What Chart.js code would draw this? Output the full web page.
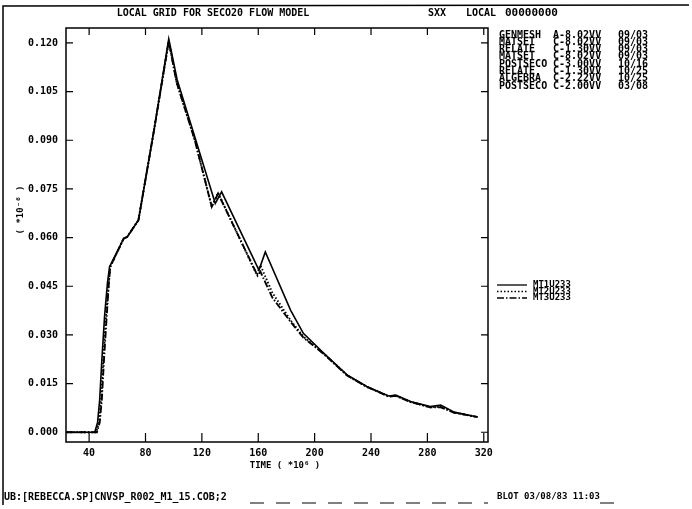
<!DOCTYPE html>
<html>
<head>
<meta charset="utf-8">
<script src="https://cdn.jsdelivr.net/npm/chart.js@4.4.1/dist/chart.umd.min.js"></script>
<style>
  body { margin: 0; background: #fff; }
  canvas { display: block; }
</style>
</head>
<body>
<canvas id="plot" width="692" height="509"></canvas>
<script>
// series names (legend)
const seriesNames = ['MT1U233', 'MT2U233', 'MT3U233'];

// MT1U233 - solid
const time1 = [24, 44, 46, 47.5, 49, 51, 53, 54.5, 64.5, 67, 75, 86, 96.5, 102.5, 115, 129.5, 134, 160.5, 165, 183, 192, 206, 223, 237, 252.5, 257.5, 268, 282, 289.5, 299, 315.5];
const conc1 = [0, 0, 0.003, 0.010, 0.022, 0.036, 0.046, 0.051, 0.0597, 0.0602, 0.0654, 0.093, 0.1212, 0.1086, 0.091, 0.0705, 0.0741, 0.0500, 0.0556, 0.0376, 0.0305, 0.0246, 0.0177, 0.0141, 0.0112, 0.0115, 0.0095, 0.0079, 0.0084, 0.0062, 0.0047];

// MT2U233 - dotted
const time2 = [24, 45, 47, 48.5, 50, 52, 54, 55, 64.5, 67, 75, 86, 96.5, 102, 115, 127, 131.5, 159, 161.5, 170, 183, 192, 206, 223, 237, 252.5, 257.5, 268, 282, 289.5, 299, 315.5];
const conc2 = [0, 0, 0.003, 0.010, 0.022, 0.036, 0.046, 0.051, 0.0597, 0.0602, 0.0654, 0.093, 0.1205, 0.108, 0.090, 0.0695, 0.0738, 0.0485, 0.0515, 0.043, 0.0345, 0.0295, 0.0244, 0.0176, 0.0140, 0.0111, 0.0113, 0.0094, 0.0077, 0.0079, 0.0061, 0.0047];

// MT3U233 - dash-dot
const time3 = [24, 45.5, 47.5, 49, 50.5, 52.5, 54, 55, 64.5, 67, 75, 86, 96.5, 102, 115, 127, 131.5, 159.5, 161.5, 170, 183, 192, 206, 223, 237, 252.5, 257.5, 268, 282, 289.5, 299, 315.5];
const conc3 = [0, 0, 0.003, 0.010, 0.022, 0.036, 0.046, 0.051, 0.0597, 0.0602, 0.0654, 0.093, 0.1205, 0.108, 0.090, 0.0695, 0.0736, 0.0483, 0.0495, 0.0415, 0.0340, 0.0292, 0.0243, 0.0175, 0.0140, 0.0110, 0.0112, 0.0093, 0.0077, 0.0077, 0.0060, 0.0047];

// axis ticks
const xTicks = [40, 80, 120, 160, 200, 240, 280, 320];
const yTicks = [0, 0.015, 0.030, 0.045, 0.060, 0.075, 0.090, 0.105, 0.120];

// header block on the right
const runInfo = [
  ['GENMESH', 'A-8.02VV', '09/03'],
  ['MATSET', 'C-8.02VV', '09/03'],
  ['RELATE', 'C-1.30VV', '09/03'],
  ['MATSET', 'C-8.02VV', '09/03'],
  ['POSTSECO', 'C-3.00VV', '10/16'],
  ['RELATE', 'C-1.30VV', '10/25'],
  ['ALGEBRA', 'C-2.22VV', '10/25'],
  ['POSTSECO', 'C-2.00VV', '03/08']
];

const MONO = '"DejaVu Sans Mono", "Liberation Mono", monospace';

function toPoints(ts, vs) {
  return ts.map((t, i) => ({ x: t, y: vs[i] }));
}

const lineStyles = [[], [1.5, 2], [7, 2, 1.5, 2]];
const seriesData = [toPoints(time1, conc1), toPoints(time2, conc2), toPoints(time3, conc3)];

// frame, inward tick marks, texts and legend
const plotterDecor = {
  id: 'plotterDecor',
  afterDraw(chart) {
    const ctx = chart.ctx;
    const a = chart.chartArea;
    const xs = chart.scales.x, ys = chart.scales.y;
    ctx.save();
    ctx.strokeStyle = '#000';
    ctx.fillStyle = '#000';
    ctx.lineWidth = 1.5;
    ctx.setLineDash([]);
    ctx.strokeRect(a.left, a.top, a.right - a.left, a.bottom - a.top);

    // tick marks pointing into the frame
    ctx.lineWidth = 1.2;
    ctx.beginPath();
    xTicks.forEach(v => {
      const px = xs.getPixelForValue(v);
      ctx.moveTo(px, a.bottom); ctx.lineTo(px, a.bottom - 9);
      ctx.moveTo(px, a.top); ctx.lineTo(px, a.top + 7);
    });
    yTicks.forEach(v => {
      const py = ys.getPixelForValue(v);
      ctx.moveTo(a.left, py); ctx.lineTo(a.left + 7, py);
      ctx.moveTo(a.right, py); ctx.lineTo(a.right - 7, py);
    });
    ctx.stroke();

    // outer page border
    ctx.lineWidth = 1.5;
    ctx.beginPath();
    ctx.moveTo(3, 505); ctx.lineTo(3, 6); ctx.lineTo(689, 5);
    ctx.stroke();

    // top header
    ctx.font = 'bold 10px ' + MONO;
    ctx.textBaseline = 'middle';
    ctx.textAlign = 'center';
    ctx.fillText('LOCAL GRID FOR SECO20 FLOW MODEL', 213, 13);
    ctx.textAlign = 'left';
    ctx.fillText('SXX', 428, 13);
    ctx.fillText('LOCAL', 466, 13);
    ctx.font = 'bold 11px ' + MONO;
    ctx.fillText('00000000', 505, 13);

    // run info block
    ctx.font = 'bold 10px ' + MONO;
    runInfo.forEach((r, i) => {
      const y = 35 + i * 7.3;
      ctx.fillText(r[0], 499, y);
      ctx.fillText(r[1], 553, y);
      ctx.fillText(r[2], 618, y);
    });

    // axis titles
    ctx.font = 'bold 9px ' + MONO;
    ctx.textAlign = 'center';
    ctx.fillText('TIME ( *10\u2076 )', (a.left + a.right) / 2 + 8, 466);
    ctx.save();
    ctx.translate(21, 210);
    ctx.rotate(-Math.PI / 2);
    ctx.fillText('( *10\u207B\u2076 )', 0, 0);
    ctx.restore();

    // legend
    ctx.textAlign = 'left';
    ctx.lineWidth = 1.3;
    chart.data.datasets.forEach((ds, i) => {
      const y = 285 + i * 6.5;
      ctx.setLineDash(ds.borderDash || []);
      ctx.beginPath();
      ctx.moveTo(497, y); ctx.lineTo(527, y);
      ctx.stroke();
      ctx.setLineDash([]);
      ctx.fillText(ds.label, 533, y);
    });

    // footer
    ctx.font = 'bold 10px ' + MONO;
    ctx.fillText('UB:[REBECCA.SP]CNVSP_R002_M1_15.COB;2', 4, 497);
    ctx.font = 'bold 9px ' + MONO;
    ctx.fillText('BLOT 03/08/83 11:03', 497, 497);
    ctx.lineWidth = 1;
    ctx.setLineDash([14, 12]);
    ctx.beginPath();
    ctx.moveTo(250, 503); ctx.lineTo(488, 503);
    ctx.moveTo(600, 503); ctx.lineTo(620, 503);
    ctx.stroke();
    ctx.restore();
  }
};

new Chart(document.getElementById('plot').getContext('2d'), {
  type: 'line',
  data: {
    datasets: seriesNames.map((name, i) => ({
      label: name,
      data: seriesData[i],
      borderColor: '#000',
      borderWidth: i === 0 ? 1.6 : 1.9,
      borderDash: lineStyles[i],
      pointRadius: 0,
      tension: 0,
      fill: false
    }))
  },
  options: {
    responsive: false,
    animation: false,
    layout: { padding: { top: 28, right: 204, bottom: 37, left: 0 } },
    plugins: { legend: { display: false }, tooltip: { enabled: false } },
    scales: {
      x: {
        type: 'linear',
        min: 23.6,
        max: 323,
        afterFit: s => { s.height = 30; },
        afterBuildTicks: s => { s.ticks = xTicks.map(v => ({ value: v })); },
        grid: { display: false, drawTicks: false },
        border: { display: false },
        ticks: {
          color: '#000',
          padding: 5,
          maxRotation: 0,
          font: { family: MONO, size: 10, weight: 'bold' },
          callback: v => String(v)
        }
      },
      y: {
        type: 'linear',
        min: -0.003,
        max: 0.1246,
        afterFit: s => { s.width = 66; },
        afterBuildTicks: s => { s.ticks = yTicks.map(v => ({ value: v })); },
        grid: { display: false, drawTicks: false },
        border: { display: false },
        ticks: {
          color: '#000',
          padding: 8,
          font: { family: MONO, size: 10, weight: 'bold' },
          callback: v => v.toFixed(3)
        }
      }
    }
  },
  plugins: [plotterDecor]
});
</script>
</body>
</html>
